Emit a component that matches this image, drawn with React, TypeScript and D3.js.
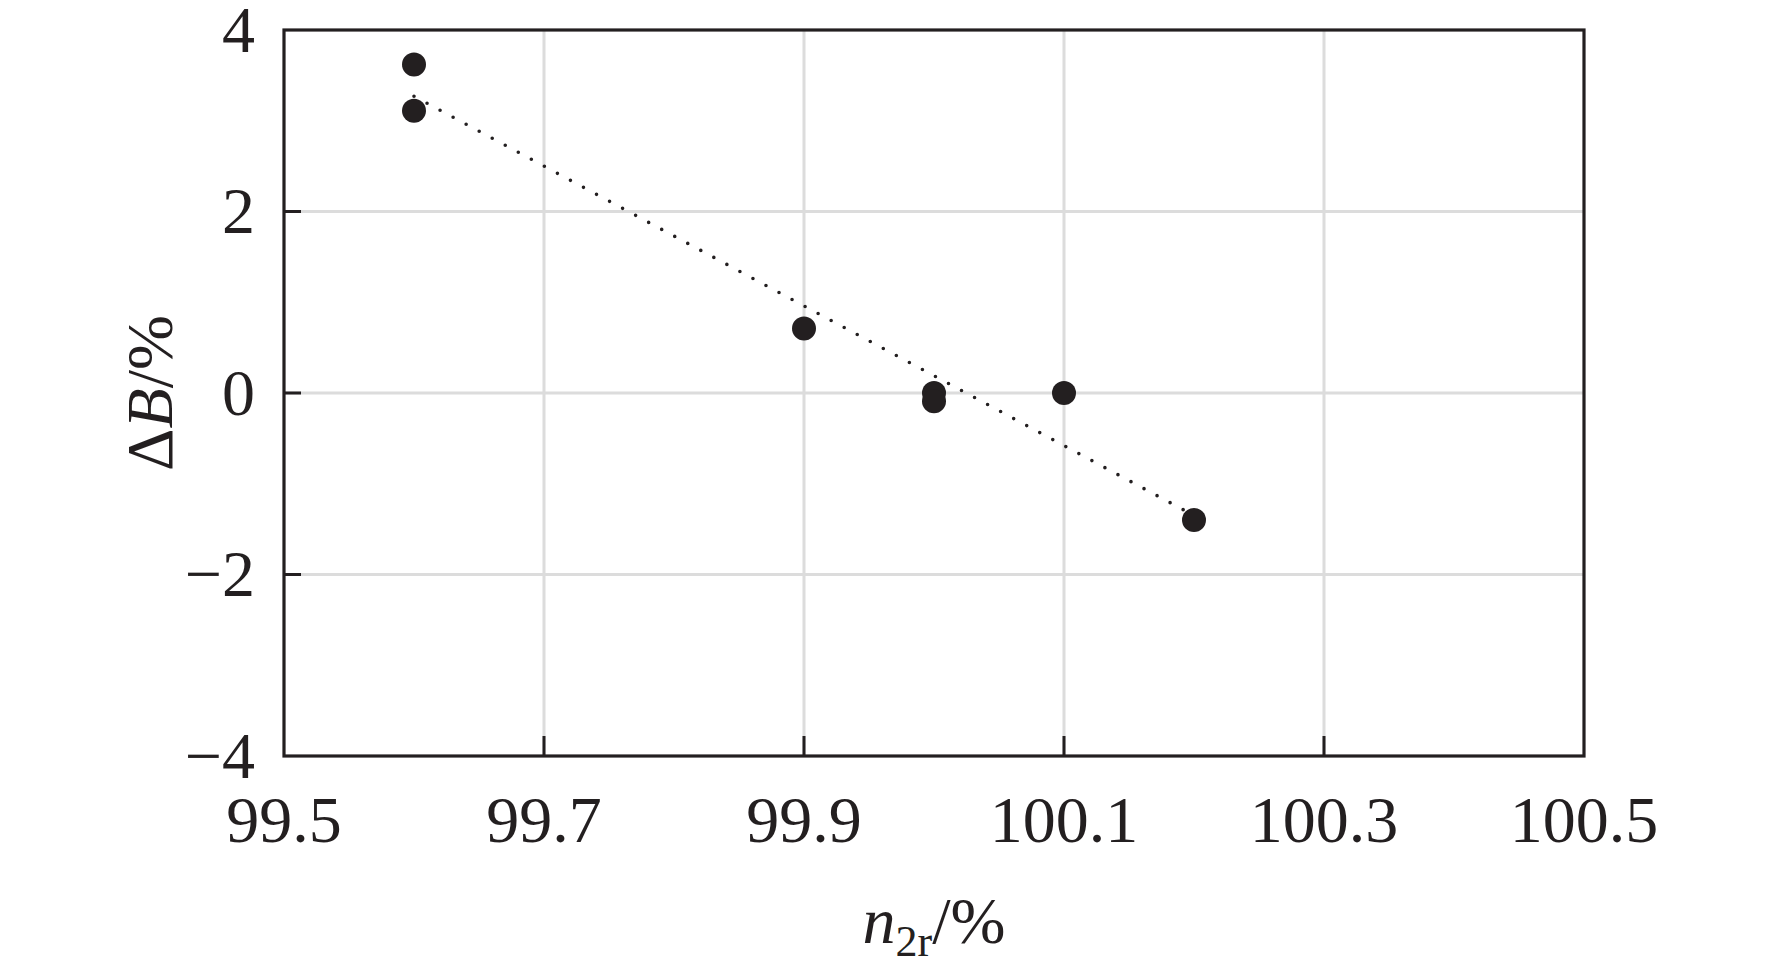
import { useEffect, useRef } from 'react';
import * as d3 from 'd3';

const pointX = [99.6, 99.6, 99.9, 100.0, 100.0, 100.1, 100.2];
const pointY = [3.62, 3.11, 0.71, 0.0, -0.09, 0.0, -1.4];

// dotted trend line end points
const trendX = [99.6, 100.2];
const trendY = [3.27, -1.35];

const xTicks = [99.5, 99.7, 99.9, 100.1, 100.3, 100.5];
const yTicks = [-4, -2, 0, 2, 4];

const W = 1772;
const H = 972;

export default function App() {
  const svgRef = useRef<SVGSVGElement>(null);

  useEffect(() => {
    if (!svgRef.current) return;
    const svg = d3.select(svgRef.current);
    svg.selectAll('*').remove();

    const margin = { top: 30, right: 188, bottom: 216, left: 284 };
    const innerWidth = W - margin.left - margin.right;
    const innerHeight = H - margin.top - margin.bottom;
    const ink = '#231f20';
    const grid = '#dcdcdc';
    const font = '"Liberation Serif", "Times New Roman", serif';

    const g = svg.append('g')
      .attr('transform', `translate(${margin.left}, ${margin.top})`);

    const xScale = d3.scaleLinear().domain([99.5, 100.5]).range([0, innerWidth]);
    const yScale = d3.scaleLinear().domain([-4, 4]).range([innerHeight, 0]);

    // grid
    g.selectAll('.vgrid')
      .data(xTicks.slice(1, -1))
      .enter()
      .append('line')
      .attr('x1', d => xScale(d))
      .attr('x2', d => xScale(d))
      .attr('y1', 0)
      .attr('y2', innerHeight)
      .attr('stroke', grid)
      .attr('stroke-width', 3);

    g.selectAll('.hgrid')
      .data(yTicks.slice(1, -1))
      .enter()
      .append('line')
      .attr('x1', 0)
      .attr('x2', innerWidth)
      .attr('y1', d => yScale(d))
      .attr('y2', d => yScale(d))
      .attr('stroke', grid)
      .attr('stroke-width', 3);

    // inward ticks
    g.selectAll('.xtick')
      .data(xTicks.slice(1, -1))
      .enter()
      .append('line')
      .attr('x1', d => xScale(d))
      .attr('x2', d => xScale(d))
      .attr('y1', innerHeight)
      .attr('y2', innerHeight - 20)
      .attr('stroke', ink)
      .attr('stroke-width', 3);

    g.selectAll('.ytick')
      .data(yTicks.slice(1, -1))
      .enter()
      .append('line')
      .attr('x1', 0)
      .attr('x2', 17)
      .attr('y1', d => yScale(d))
      .attr('y2', d => yScale(d))
      .attr('stroke', ink)
      .attr('stroke-width', 3);

    // frame
    g.append('rect')
      .attr('x', 0)
      .attr('y', 0)
      .attr('width', innerWidth)
      .attr('height', innerHeight)
      .attr('fill', 'none')
      .attr('stroke', ink)
      .attr('stroke-width', 3.2);

    // trend line
    const trend = trendX.map((x, i) => ({ x, y: trendY[i] }));
    const line = d3.line<{ x: number; y: number }>()
      .x(d => xScale(d.x))
      .y(d => yScale(d.y));

    g.append('path')
      .datum(trend)
      .attr('fill', 'none')
      .attr('stroke', ink)
      .attr('stroke-width', 3.6)
      .attr('stroke-linecap', 'round')
      .attr('stroke-dasharray', '0 14.8')
      .attr('d', line);

    // points
    g.selectAll('.pt')
      .data(pointX.map((x, i) => ({ x, y: pointY[i] })))
      .enter()
      .append('circle')
      .attr('cx', d => xScale(d.x))
      .attr('cy', d => yScale(d.y))
      .attr('r', 12)
      .attr('fill', ink);

    // tick labels
    g.selectAll('.xlab')
      .data(xTicks)
      .enter()
      .append('text')
      .attr('x', d => xScale(d))
      .attr('y', innerHeight + 86)
      .attr('text-anchor', 'middle')
      .attr('font-family', font)
      .attr('font-size', 66)
      .attr('fill', ink)
      .text(d => d.toFixed(1));

    g.selectAll('.ylab')
      .data(yTicks)
      .enter()
      .append('text')
      .attr('x', -29)
      .attr('y', d => yScale(d))
      .attr('dy', '0.33em')
      .attr('text-anchor', 'end')
      .attr('font-family', font)
      .attr('font-size', 66)
      .attr('fill', ink)
      .text(d => (d < 0 ? '\u2212' + Math.abs(d) : String(d)));

    // axis titles
    const xt = svg.append('text')
      .attr('x', margin.left + innerWidth / 2)
      .attr('y', 943)
      .attr('text-anchor', 'middle')
      .attr('font-family', font)
      .attr('font-size', 66)
      .attr('fill', ink);
    xt.append('tspan').attr('font-style', 'italic').text('n');
    xt.append('tspan').attr('font-size', 44).attr('dy', 13).text('2r');
    xt.append('tspan').attr('dy', -13).text('/%');

    const yt = svg.append('text')
      .attr('transform', `translate(172, ${margin.top + innerHeight / 2}) rotate(-90)`)
      .attr('text-anchor', 'middle')
      .attr('font-family', font)
      .attr('font-size', 66)
      .attr('fill', ink);
    yt.append('tspan').text('\u0394');
    yt.append('tspan').attr('font-style', 'italic').text('B');
    yt.append('tspan').text('/%');
  }, []);

  return (
    <div style={{ position: 'absolute', left: 0, top: 0 }}>
      <svg ref={svgRef} width={W} height={H} style={{ display: 'block', background: '#fff' }} />
    </div>
  );
}
